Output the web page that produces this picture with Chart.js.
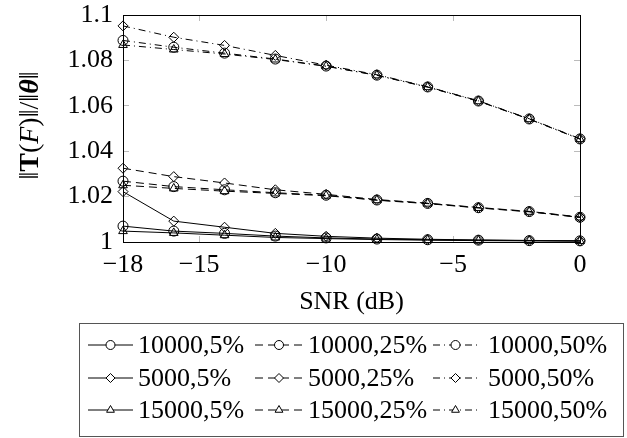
<!DOCTYPE html>
<html>
<head>
<meta charset="utf-8">
<script src="https://cdn.jsdelivr.net/npm/chart.js"></script>
<style>
  html, body { margin: 0; padding: 0; background: #fff; }
  canvas { display: block; }
</style>
</head>
<body>
<canvas id="snrChart" width="627" height="438"></canvas>
<script>
// SNR (dB) values on the x axis
const snr = [-18, -16, -14, -12, -10, -8, -6, -4, -2, 0];
const xTicks = [-18, -15, -10, -5, 0];

// ||T(F)|| / ||theta||
const n10000_5  = [1.0070, 1.0048, 1.0038, 1.0026, 1.0018, 1.0013, 1.0010, 1.0008, 1.0006, 1.0005];
const n10000_25 = [1.0268, 1.0244, 1.0230, 1.0217, 1.0206, 1.0185, 1.0170, 1.0151, 1.0134, 1.0109];
const n10000_50 = [1.0888, 1.0858, 1.0832, 1.0806, 1.0775, 1.0735, 1.0683, 1.0621, 1.0542, 1.0454];
const n5000_5   = [1.0222, 1.0092, 1.0065, 1.0038, 1.0025, 1.0017, 1.0012, 1.0009, 1.0007, 1.0005];
const n5000_25  = [1.0325, 1.0288, 1.0260, 1.0230, 1.0210, 1.0187, 1.0171, 1.0152, 1.0135, 1.0110];
const n5000_50  = [1.0952, 1.0902, 1.0866, 1.0822, 1.0779, 1.0737, 1.0684, 1.0622, 1.0543, 1.0455];
const n15000_5  = [1.0048, 1.0040, 1.0030, 1.0020, 1.0015, 1.0011, 1.0008, 1.0006, 1.0005, 1.0004];
const n15000_25 = [1.0250, 1.0236, 1.0224, 1.0214, 1.0204, 1.0184, 1.0169, 1.0150, 1.0133, 1.0108];
const n15000_50 = [1.0868, 1.0848, 1.0828, 1.0804, 1.0774, 1.0734, 1.0682, 1.0620, 1.0541, 1.0453];

// y axis title, pieces with their own style (T bold, F italic, theta bold italic)
const yTitleParts = [['\u2016', ''], ['T', 'bold '], ['(', ''], ['F', 'italic '], [')\u2016/\u2016', ''], ['\u03b8', 'italic bold '], ['\u2016', '']];

const FONT = '"Liberation Serif", "DejaVu Serif", serif';
Chart.defaults.font.family = FONT;
Chart.defaults.color = '#000';

const dashes = { '5%': [], '25%': [8, 5], '50%': [7, 4, 1, 4] };

function series(label, values, marker, pct) {
  return {
    label: label,
    data: snr.map((x, i) => ({ x: x, y: values[i] })),
    borderColor: '#000',
    borderWidth: 1,
    borderDash: dashes[pct],
    pointStyle: marker,
    pointRadius: 5,
    pointBorderWidth: 1,
    pointBorderColor: '#000',
    pointBackgroundColor: 'rgba(0,0,0,0)',
    fill: false,
    tension: 0,
    clip: false
  };
}

// legend drawn as a 3x3 table like the pgfplots one, plus the mixed-style y title
const tableLegend = {
  id: 'tableLegend',
  afterDraw(chart, args, opts) {
    const ctx = chart.ctx;
    ctx.save();
    ctx.strokeStyle = '#555';
    ctx.lineWidth = 1;
    ctx.strokeRect(opts.box[0] + 0.5, opts.box[1] + 0.5, opts.box[2], opts.box[3]);
    chart.data.datasets.forEach((ds, i) => {
      const col = i % 3, row = Math.floor(i / 3);
      const y = opts.rowY[row];
      const x0 = opts.sampleX[col][0], x1 = opts.sampleX[col][1];
      ctx.strokeStyle = '#000';
      ctx.lineWidth = ds.borderWidth;
      ctx.setLineDash(ds.borderDash || []);
      ctx.beginPath();
      ctx.moveTo(x0, y);
      ctx.lineTo(x1, y);
      ctx.stroke();
      ctx.setLineDash([]);
      ctx.fillStyle = '#fff';
      Chart.helpers.drawPoint(ctx, { pointStyle: ds.pointStyle, radius: 4.5, borderWidth: 1, rotation: 0 }, (x0 + x1) / 2, y);
      ctx.fillStyle = '#000';
      ctx.font = '26px ' + FONT;
      ctx.textAlign = 'left';
      ctx.textBaseline = 'middle';
      ctx.fillText(ds.label, opts.textX[col], y + 1);
    });

    // y title
    const area = chart.chartArea;
    ctx.translate(opts.titleX, (area.top + area.bottom) / 2 - 3);
    ctx.rotate(-Math.PI / 2);
    ctx.textBaseline = 'middle';
    let total = 0;
    yTitleParts.forEach(p => { ctx.font = p[1] + '28px ' + FONT; total += ctx.measureText(p[0]).width; });
    let x = -total / 2;
    yTitleParts.forEach(p => {
      ctx.font = p[1] + '28px ' + FONT;
      ctx.fillText(p[0], x, 0);
      x += ctx.measureText(p[0]).width;
    });
    ctx.restore();
  }
};

const gridTicks = { drawOnChartArea: false, tickLength: -6, color: '#bbb' };
const blackBorder = { color: '#000', width: 1 };
const fmtY = v => String(Math.round(v * 100) / 100);
const fmtX = v => (v < 0 ? '\u2212' + Math.abs(v) : String(v));
const setXTicks = s => { s.ticks = xTicks.map(v => ({ value: v })); };

new Chart(document.getElementById('snrChart'), {
  type: 'line',
  data: {
    datasets: [
      series('10000,5%', n10000_5, 'circle', '5%'),
      series('10000,25%', n10000_25, 'circle', '25%'),
      series('10000,50%', n10000_50, 'circle', '50%'),
      series('5000,5%', n5000_5, 'rectRot', '5%'),
      series('5000,25%', n5000_25, 'rectRot', '25%'),
      series('5000,50%', n5000_50, 'rectRot', '50%'),
      series('15000,5%', n15000_5, 'triangle', '5%'),
      series('15000,25%', n15000_25, 'triangle', '25%'),
      series('15000,50%', n15000_50, 'triangle', '50%')
    ]
  },
  options: {
    responsive: false,
    animation: false,
    devicePixelRatio: 1,
    layout: { padding: { left: 10, top: 15, right: 47, bottom: 118 } },
    plugins: {
      legend: { display: false },
      tooltip: { enabled: false },
      tableLegend: {
        box: [79, 323, 544, 113],
        rowY: [345, 378, 410],
        sampleX: [[88, 133], [255, 303], [433, 478]],
        textX: [138, 308, 488],
        titleX: 31
      }
    },
    scales: {
      x: {
        type: 'linear', position: 'bottom', min: -18, max: 0,
        afterBuildTicks: setXTicks,
        afterFit: s => { s.height = 78; },
        ticks: { font: { size: 26 }, color: '#000', padding: 14, maxRotation: 0, callback: fmtX },
        grid: gridTicks, border: blackBorder,
        title: { display: true, text: 'SNR (dB)', font: { size: 26 }, color: '#000', padding: { top: 0, bottom: 2 } }
      },
      x2: {
        type: 'linear', position: 'top', min: -18, max: 0,
        afterBuildTicks: setXTicks,
        afterFit: s => { s.height = 0; },
        ticks: { display: false },
        grid: gridTicks, border: blackBorder
      },
      y: {
        type: 'linear', position: 'left', min: 1, max: 1.1,
        // keep tick label padding from pushing the plot area down
        afterFit: s => { s.width = 113; s.paddingTop = 0; s.paddingBottom = 0; },
        ticks: { stepSize: 0.02, font: { size: 26 }, color: '#000', padding: 16, callback: fmtY },
        grid: gridTicks, border: blackBorder
      },
      y2: {
        type: 'linear', position: 'right', min: 1, max: 1.1,
        afterFit: s => { s.width = 0; s.paddingTop = 0; s.paddingBottom = 0; },
        ticks: { display: false, stepSize: 0.02 },
        grid: gridTicks, border: blackBorder
      }
    }
  },
  plugins: [tableLegend]
});
</script>
</body>
</html>
